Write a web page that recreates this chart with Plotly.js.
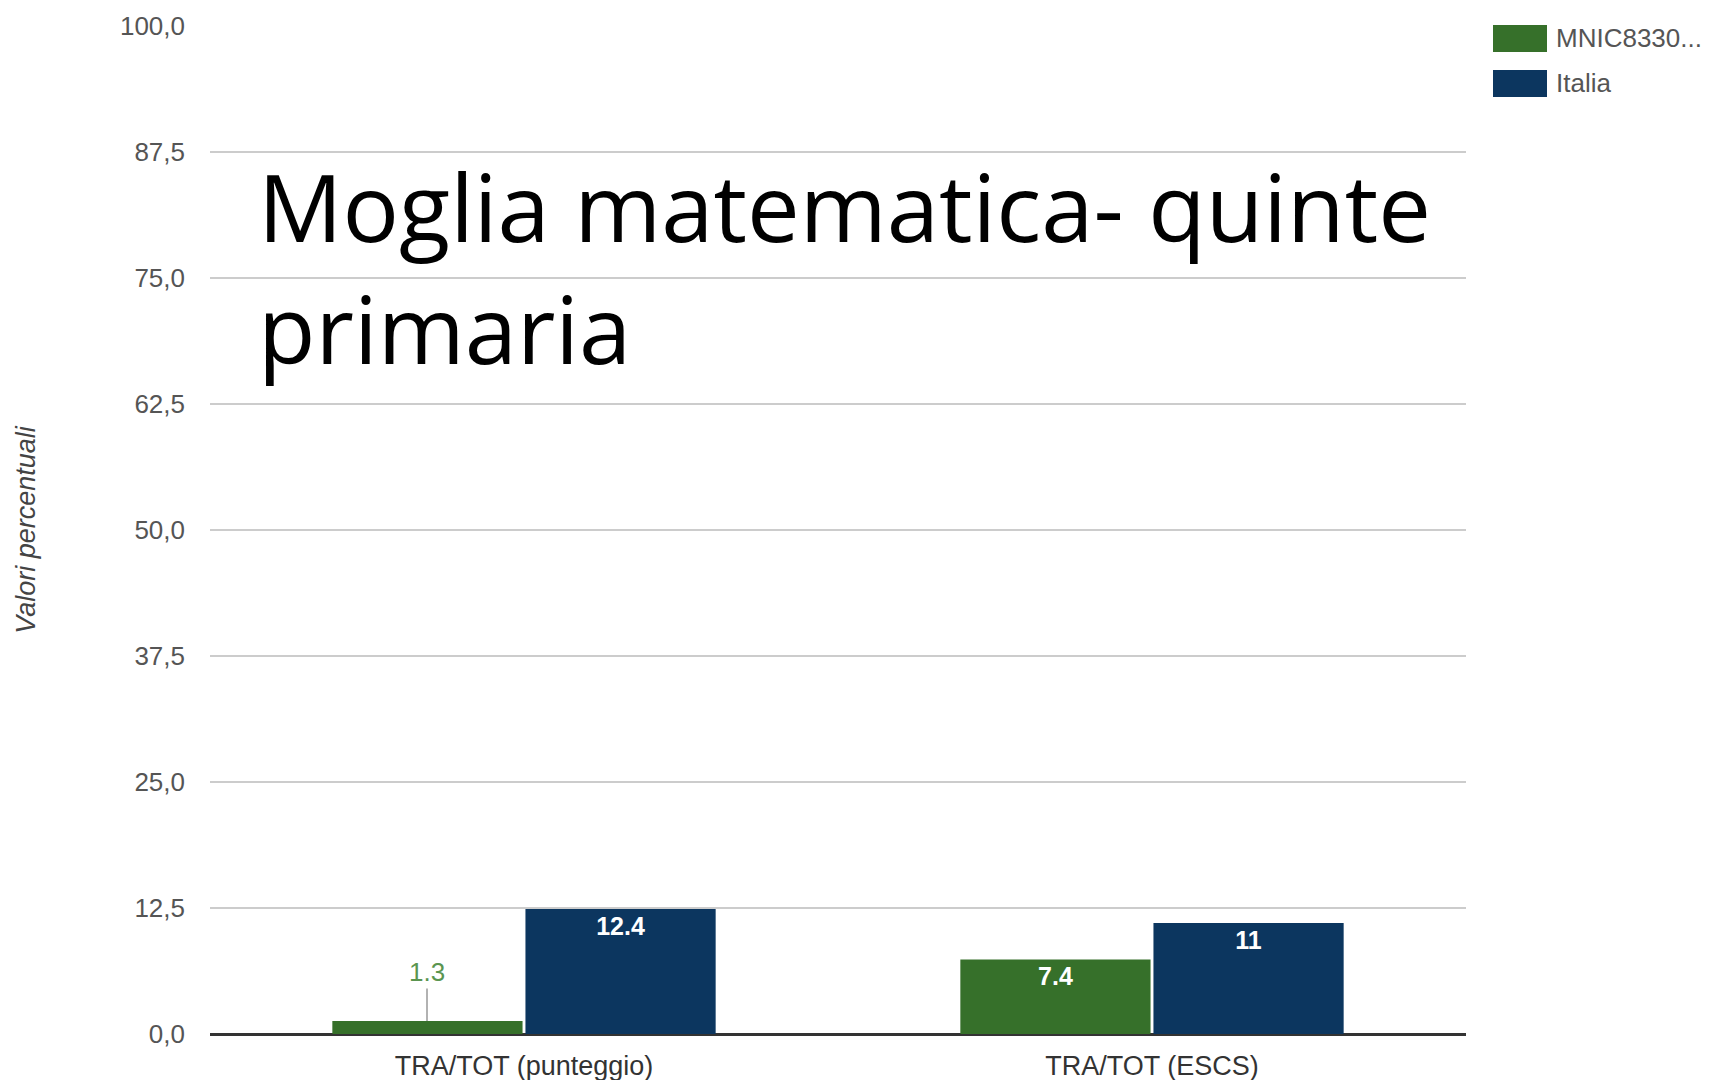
<!DOCTYPE html>
<html>
<head>
<meta charset="utf-8">
<script src="https://cdn.plot.ly/plotly-3.0.1.min.js"></script>
<style>html,body{margin:0;padding:0;background:#fff;}#chart{width:1709px;height:1080px;}</style>
</head>
<body>
<div id="chart"></div>
<script>
// ---- data ----
const categories = ['TRA/TOT (punteggio)', 'TRA/TOT (ESCS)'];
const seriesNames = ['MNIC8330...', 'Italia'];
const schoolValues = [1.3, 7.4];
const italyValues = [12.4, 11];
const yTickValues = [0, 12.5, 25, 37.5, 50, 62.5, 75, 87.5, 100];
const yTickLabels = ['0,0', '12,5', '25,0', '37,5', '50,0', '62,5', '75,0', '87,5', '100,0'];
const titleText = 'Moglia matematica- quinte<br>primaria';
const yTitleText = 'Valori percentuali';

// ---- styling ----
const colors = ['#36702a', '#0c365f'];
const W = 1709, H = 1080;
const M = {l: 210, r: 243, t: 26, b: 46};
const plotW = W - M.l - M.r, plotH = H - M.t - M.b;
const px2x = px => (px - M.l) / plotW;
const py2y = py => (H - M.b - py) / plotH;

const fmt = v => String(v);
const labelFont = 'Liberation Sans, Arial, sans-serif';

const traces = [
  {
    type: 'bar', name: seriesNames[0], x: categories, y: schoolValues,
    marker: {color: colors[0]},
    text: schoolValues.map(fmt),
    textposition: schoolValues.map(v => v < 3 ? 'none' : 'inside'),
    insidetextanchor: 'end',
    textfont: {color: '#ffffff', size: 25, family: labelFont, weight: 'bold'},
    constraintext: 'none',
    hoverinfo: 'skip'
  },
  {
    type: 'bar', name: seriesNames[1], x: categories, y: italyValues,
    marker: {color: colors[1]},
    text: italyValues.map(fmt),
    textposition: 'inside',
    insidetextanchor: 'end',
    textfont: {color: '#ffffff', size: 25, family: labelFont, weight: 'bold'},
    constraintext: 'none',
    hoverinfo: 'skip'
  }
];

// small-bar label with leader line (from data)
const annotations = [];
schoolValues.forEach((v, i) => {
  if (v < 3) {
    annotations.push({
      x: categories[i], y: v, xref: 'x', yref: 'y', xshift: -97,
      text: fmt(v), showarrow: true, arrowhead: 0, arrowwidth: 1.5, arrowcolor: '#999999',
      ax: 0, ay: -49, standoff: 0,
      font: {color: '#5a9550', size: 26, family: labelFont}
    });
  }
});

// custom legend
const shapes = [];
seriesNames.forEach((n, i) => {
  const top = 25 + i * 45;
  shapes.push({type: 'rect', xref: 'paper', yref: 'paper',
    x0: px2x(1493), x1: px2x(1547), y0: py2y(top + 27), y1: py2y(top),
    fillcolor: colors[i], line: {width: 0}});
  annotations.push({xref: 'paper', yref: 'paper', x: px2x(1554), y: py2y(top + 13),
    xanchor: 'left', yanchor: 'middle', showarrow: false, text: n,
    font: {color: '#555555', size: 26, family: labelFont}});
});

const layout = {
  width: W, height: H,
  margin: M,
  paper_bgcolor: '#ffffff', plot_bgcolor: '#ffffff',
  showlegend: false,
  barmode: 'group', bargap: 0.385, bargroupgap: 0.015,
  title: {
    text: titleText, xref: 'container', yref: 'container',
    x: 258 / W, xanchor: 'left', y: 1 - 242 / H, yanchor: 'top',
    font: {family: 'Open Sans, Noto Sans, sans-serif', size: 94, color: '#000000'}
  },
  xaxis: {
    type: 'category', categoryarray: categories,
    showgrid: false, showline: false, zeroline: false, ticks: '',
    tickfont: {family: labelFont, size: 27, color: '#333333'},
    ticklabelstandoff: 13
  },
  yaxis: {
    range: [0, 100], fixedrange: true,
    tickmode: 'array', tickvals: yTickValues, ticktext: yTickLabels,
    showgrid: true, gridcolor: '#cccccc', gridwidth: 2,
    zeroline: true, zerolinecolor: '#333333', zerolinewidth: 3,
    showline: false, ticks: '',
    tickfont: {family: labelFont, size: 26, color: '#555555'},
    ticklabelstandoff: 24,
    title: {text: yTitleText, standoff: 76,
      font: {family: labelFont, size: 27, color: '#444444', style: 'italic'}}
  },
  annotations: annotations,
  shapes: shapes
};

Plotly.newPlot('chart', traces, layout, {displayModeBar: false, staticPlot: true});
</script>
</body>
</html>
